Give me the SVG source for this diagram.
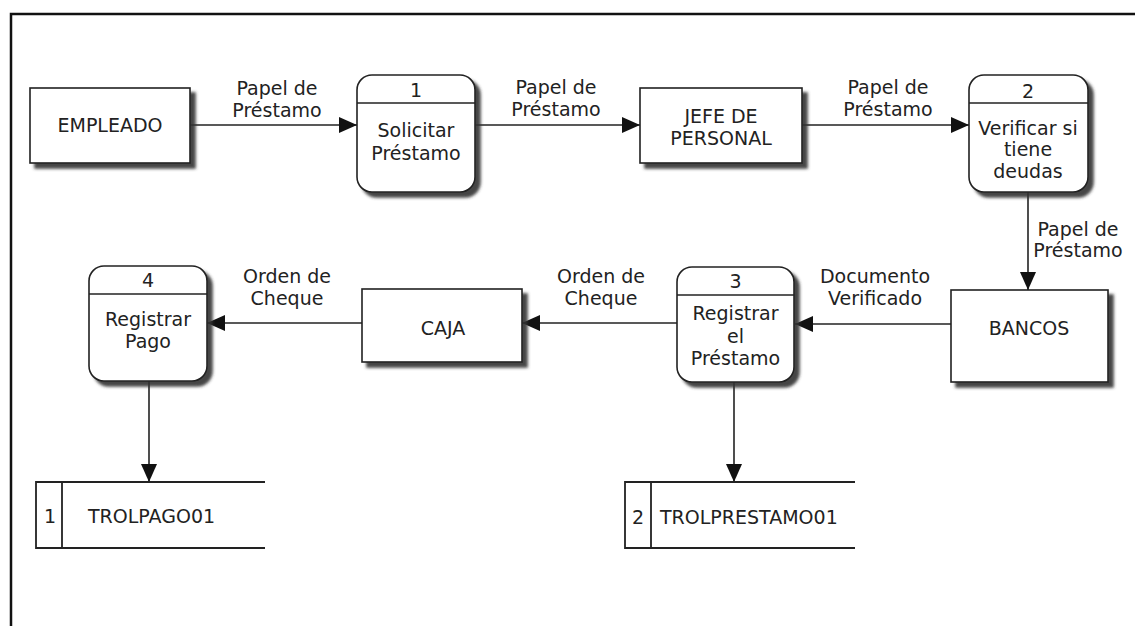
<svg xmlns="http://www.w3.org/2000/svg" width="1135" height="626" viewBox="0 0 1135 626">
<style>
text{font-family:"DejaVu Sans",Verdana,sans-serif;font-size:19px;fill:#222;text-anchor:middle}
.box{fill:#fff;stroke:#222;stroke-width:1.6}
.sh{filter:url(#shadow)}
.line{fill:none;stroke:#222;stroke-width:1.6}
.conn{fill:none;stroke:#222;stroke-width:1.6;marker-end:url(#arrow)}
.st{fill:none;stroke:#222;stroke-width:1.8}
.l{text-anchor:start}
</style>
<defs>
<filter id="shadow" x="-10%" y="-10%" width="130%" height="130%">
<feDropShadow dx="5" dy="5" stdDeviation="1.8" flood-color="#333" flood-opacity="0.9"/>
</filter>
<marker id="arrow" markerUnits="userSpaceOnUse" markerWidth="18" markerHeight="16" refX="18" refY="8" orient="auto">
<path d="M0,0 L18,8 L0,16 z" fill="#111"/>
</marker>
</defs>
<rect width="1135" height="626" fill="#fff"/>
<path d="M11,626 V14 H1135" fill="none" stroke="#111" stroke-width="2.5"/>

<g id="connectors">
<line class="conn" x1="190" y1="125" x2="357" y2="125"/>
<line class="conn" x1="475" y1="125" x2="640" y2="125"/>
<line class="conn" x1="802" y1="125" x2="969" y2="125"/>
<line class="conn" x1="1028" y1="192" x2="1028" y2="290"/>
<line class="conn" x1="951" y1="324" x2="795" y2="324"/>
<line class="conn" x1="677" y1="323" x2="522" y2="323"/>
<line class="conn" x1="362" y1="323" x2="207" y2="323"/>
<line class="conn" x1="149" y1="381" x2="149" y2="482"/>
<line class="conn" x1="734" y1="382" x2="734" y2="482"/>
<text x="277" y="95">Papel de</text><text x="277" y="117">Préstamo</text>
<text x="556" y="94">Papel de</text><text x="556" y="116">Préstamo</text>
<text x="888" y="94">Papel de</text><text x="888" y="116">Préstamo</text>
<text x="1078" y="236">Papel de</text><text x="1078" y="257">Préstamo</text>
<text x="875" y="283">Documento</text><text x="875" y="305">Verificado</text>
<text x="601" y="283">Orden de</text><text x="601" y="305">Cheque</text>
<text x="287" y="283">Orden de</text><text x="287" y="305">Cheque</text>
</g>

<g id="empleado">
<rect class="box sh" x="30" y="88" width="160" height="75"/>
<text x="110" y="132">EMPLEADO</text>
</g>

<g id="proc1">
<rect class="box sh" x="357" y="75" width="118" height="117" rx="15"/>
<line class="line" x1="357" y1="103" x2="475" y2="103"/>
<text x="416" y="97">1</text>
<text x="416" y="137">Solicitar</text>
<text x="416" y="160">Préstamo</text>
</g>

<g id="jefe">
<rect class="box sh" x="640" y="88" width="162" height="75"/>
<text x="721" y="123">JEFE DE</text>
<text x="721" y="145">PERSONAL</text>
</g>

<g id="proc2">
<rect class="box sh" x="969" y="75" width="119" height="117" rx="15"/>
<line class="line" x1="969" y1="103" x2="1088" y2="103"/>
<text x="1028" y="98">2</text>
<text x="1028" y="135">Verificar si</text>
<text x="1028" y="156">tiene</text>
<text x="1028" y="178">deudas</text>
</g>

<g id="bancos">
<rect class="box sh" x="951" y="290" width="157" height="92"/>
<text x="1029" y="335">BANCOS</text>
</g>

<g id="proc3">
<rect class="box sh" x="677" y="267" width="117" height="115" rx="15"/>
<line class="line" x1="677" y1="295" x2="794" y2="295"/>
<text x="735.5" y="288">3</text>
<text x="735.5" y="320">Registrar</text>
<text x="735.5" y="343">el</text>
<text x="735.5" y="365">Préstamo</text>
</g>

<g id="caja">
<rect class="box sh" x="362" y="289" width="160" height="73"/>
<text x="443" y="335">CAJA</text>
</g>

<g id="proc4">
<rect class="box sh" x="89" y="266" width="118" height="115" rx="15"/>
<line class="line" x1="89" y1="294" x2="207" y2="294"/>
<text x="148" y="287">4</text>
<text x="148" y="326">Registrar</text>
<text x="148" y="348">Pago</text>
</g>

<g id="store1">
<path class="st" d="M265,482 H36 V548 H265 M62,482 V548"/>
<text x="50" y="523">1</text>
<text class="l" x="88" y="523">TROLPAGO01</text>
</g>

<g id="store2">
<path class="st" d="M855,482 H625 V548 H855 M651,482 V548"/>
<text x="638" y="524">2</text>
<text class="l" x="660" y="524">TROLPRESTAMO01</text>
</g>
</svg>
